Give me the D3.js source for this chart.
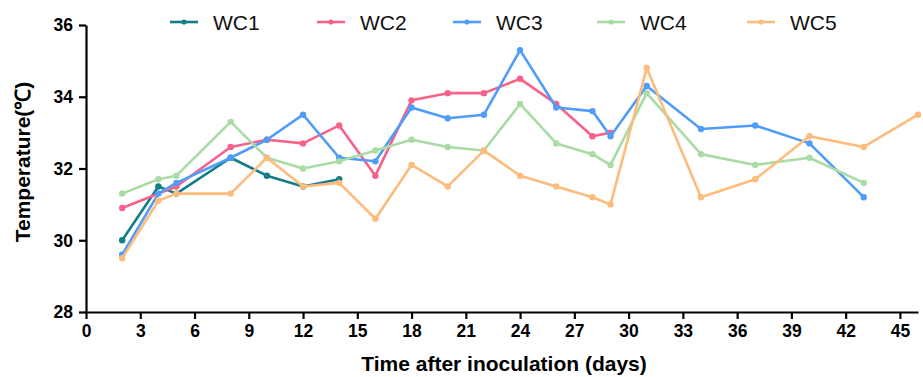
<!DOCTYPE html>
<html>
<head>
<meta charset="utf-8">
<script src="https://cdn.jsdelivr.net/npm/d3@7"></script>
<style>
  body { margin: 0; background: #fff; }
  text { font-family: "Liberation Sans", Arial, sans-serif; }
</style>
</head>
<body>
<div id="chart"></div>
<script>
// days sampled per series
const days1 = [2, 4, 5, 8, 10, 12, 14];
const days2 = [2, 5, 8, 10, 12, 14, 16, 18, 20, 22, 24, 26, 28, 29];
const days3 = [2, 4, 5, 8, 10, 12, 14, 16, 18, 20, 22, 24, 26, 28, 29, 31, 34, 37, 40, 43];
const days4 = [2, 4, 5, 8, 10, 12, 14, 16, 18, 20, 22, 24, 26, 28, 29, 31, 34, 37, 40, 43];
const days5 = [2, 4, 5, 8, 10, 12, 14, 16, 18, 20, 22, 24, 26, 28, 29, 31, 34, 37, 40, 43, 46];

const wc1 = [30.0, 31.5, 31.3, 32.3, 31.8, 31.5, 31.7];
const wc2 = [30.9, 31.5, 32.6, 32.8, 32.7, 33.2, 31.8, 33.9, 34.1, 34.1, 34.5, 33.8, 32.9, 33.0];
const wc3 = [29.6, 31.3, 31.6, 32.3, 32.8, 33.5, 32.3, 32.2, 33.7, 33.4, 33.5, 35.3, 33.7, 33.6, 32.9, 34.3, 33.1, 33.2, 32.7, 31.2];
const wc4 = [31.3, 31.7, 31.8, 33.3, 32.3, 32.0, 32.2, 32.5, 32.8, 32.6, 32.5, 33.8, 32.7, 32.4, 32.1, 34.1, 32.4, 32.1, 32.3, 31.6];
const wc5 = [29.5, 31.1, 31.3, 31.3, 32.3, 31.5, 31.6, 30.6, 32.1, 31.5, 32.5, 31.8, 31.5, 31.2, 31.0, 34.8, 31.2, 31.7, 32.9, 32.6, 33.5];

const seriesNames = ["WC1", "WC2", "WC3", "WC4", "WC5"];
const seriesColors = ["#137d88", "#f7618a", "#4f9cf9", "#a9dba5", "#fdbb7c"];
const xTicks = d3.range(0, 46, 3);
const yTicks = [28, 30, 32, 34, 36];

const series = [
  [days1, wc1], [days2, wc2], [days3, wc3], [days4, wc4], [days5, wc5]
].map(([d, v], i) => ({
  name: seriesNames[i],
  color: seriesColors[i],
  points: d.map((day, j) => ({ day, value: v[j] }))
}));

const W = 923, H = 377;
const svg = d3.select("#chart").append("svg")
  .attr("width", W)
  .attr("height", H);

const x = d3.scaleLinear().domain([0, 46]).range([86, 918]);
const y = d3.scaleLinear().domain([28, 36]).range([312, 25]);

// axes
const xAxis = svg.append("g")
  .attr("transform", `translate(0,${y(28)})`)
  .call(d3.axisBottom(x).tickValues(xTicks).tickSize(7).tickSizeOuter(0).tickPadding(6));
const yAxis = svg.append("g")
  .attr("transform", `translate(${x(0)},0)`)
  .call(d3.axisLeft(y).tickValues(yTicks).tickSize(7).tickSizeOuter(0).tickPadding(6));

[xAxis, yAxis].forEach(a => {
  a.select(".domain").attr("stroke", "#000").attr("stroke-width", 2.2);
  a.selectAll(".tick line").attr("stroke", "#000").attr("stroke-width", 2.2);
  a.selectAll(".tick text")
    .attr("fill", "#000")
    .style("font-family", "'Liberation Sans', Arial, sans-serif")
    .style("font-size", "17.5px")
    .style("font-weight", "bold");
});
yAxis.selectAll(".tick text").attr("dy", "0.34em");

// lines
const line = d3.line().x(d => x(d.day)).y(d => y(d.value));
const g = svg.append("g");
series.forEach(s => {
  g.append("path")
    .datum(s.points)
    .attr("fill", "none")
    .attr("stroke", s.color)
    .attr("stroke-width", 2.6)
    .attr("stroke-linejoin", "round")
    .attr("d", line);
  g.selectAll(null)
    .data(s.points)
    .enter().append("circle")
    .attr("cx", d => x(d.day))
    .attr("cy", d => y(d.value))
    .attr("r", 3.2)
    .attr("fill", s.color);
});

// legend
const legendX = [170, 317, 453, 597, 747];
const legend = svg.append("g");
series.forEach((s, i) => {
  const lg = legend.append("g").attr("transform", `translate(${legendX[i]},22)`);
  lg.append("line").attr("x1", 0).attr("x2", 28).attr("y1", 0).attr("y2", 0)
    .attr("stroke", s.color).attr("stroke-width", 2.6);
  lg.append("circle").attr("cx", 14).attr("cy", 0).attr("r", 2.6).attr("fill", s.color);
  lg.append("text").attr("x", 43).attr("y", 7.5)
    .style("font-size", "21px").attr("fill", "#111").text(s.name);
});

// axis titles
svg.append("text")
  .attr("x", 504).attr("y", 371)
  .attr("text-anchor", "middle")
  .style("font-size", "21px").style("font-weight", "bold")
  .text("Time after inoculation (days)");
svg.append("text")
  .attr("transform", `translate(30,162) rotate(-90)`)
  .attr("text-anchor", "middle")
  .style("font-size", "21px").style("font-weight", "bold")
  .text("Temperature(℃)");
</script>
</body>
</html>
